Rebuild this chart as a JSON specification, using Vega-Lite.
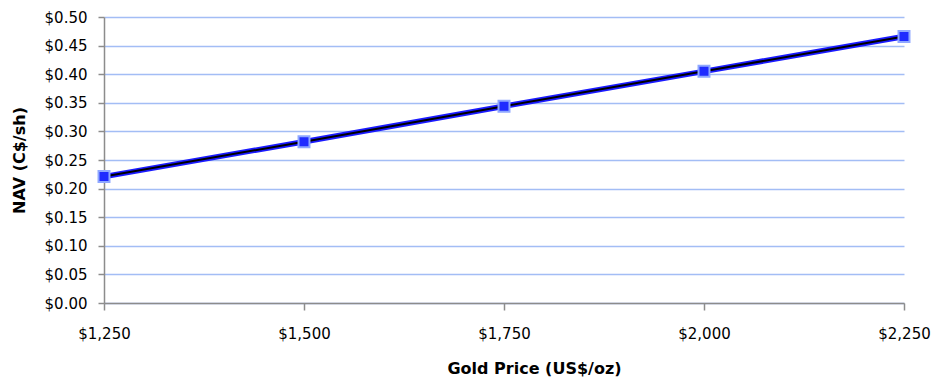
{
  "$schema": "https://vega.github.io/schema/vega-lite/v6.json",
  "width": 800,
  "height": 286,
  "autosize": {"type": "none"},
  "padding": {"left": 104, "top": 17, "right": 28, "bottom": 74},
  "background": "white",
  "config": {
    "view": {"stroke": null},
    "font": "DejaVu Sans"
  },
  "data": {
    "values": [
      {"gold": 1250, "nav": 0.221},
      {"gold": 1500, "nav": 0.282},
      {"gold": 1750, "nav": 0.344},
      {"gold": 2000, "nav": 0.405},
      {"gold": 2250, "nav": 0.466}
    ]
  },
  "encoding": {
    "x": {
      "field": "gold",
      "type": "quantitative",
      "scale": {"domain": [1250, 2250], "nice": false, "zero": false},
      "axis": {
        "title": "Gold Price (US$/oz)",
        "values": [1250, 1500, 1750, 2000, 2250],
        "format": "$,.0f",
        "grid": false,
        "domainColor": "#8c8c8c",
        "domainWidth": 1.5,
        "tickColor": "#8c8c8c",
        "tickWidth": 1.5,
        "tickSize": 7,
        "labelFont": "DejaVu Sans",
        "labelFontSize": 15,
        "labelColor": "#000000",
        "labelPadding": 16,
        "labelFlush": false,
        "titleFont": "DejaVu Sans",
        "titleFontSize": 16,
        "titleFontWeight": "bold",
        "titleColor": "#000000",
        "titleX": 430,
        "titleY": 57,
        "titleBaseline": "top",
        "titleAnchor": "middle"
      }
    },
    "y": {
      "field": "nav",
      "type": "quantitative",
      "scale": {"domain": [0, 0.5], "nice": false},
      "axis": {
        "title": "NAV (C$/sh)",
        "values": [0, 0.05, 0.1, 0.15, 0.2, 0.25, 0.3, 0.35, 0.4, 0.45, 0.5],
        "format": "$.2f",
        "grid": true,
        "gridColor": "#a3bdf5",
        "gridWidth": 1.6,
        "domainColor": "#8c8c8c",
        "domainWidth": 1.5,
        "tickColor": "#8c8c8c",
        "tickWidth": 1.5,
        "tickSize": 6,
        "labelFont": "DejaVu Sans",
        "labelFontSize": 15,
        "labelColor": "#000000",
        "labelPadding": 11,
        "labelFlush": false,
        "titleFont": "DejaVu Sans",
        "titleFontSize": 16,
        "titleFontWeight": "bold",
        "titleColor": "#000000",
        "titleX": -77,
        "titleBaseline": "bottom"
      }
    }
  },
  "layer": [
    {
      "mark": {"type": "line", "color": "#1a1aff", "strokeWidth": 5.5}
    },
    {
      "mark": {"type": "line", "color": "#000000", "strokeWidth": 2}
    },
    {
      "mark": {
        "type": "point",
        "shape": "square",
        "filled": true,
        "size": 120,
        "fill": "#1f2bff",
        "stroke": "#8fa8ff",
        "strokeWidth": 2,
        "opacity": 1
      }
    }
  ]
}
